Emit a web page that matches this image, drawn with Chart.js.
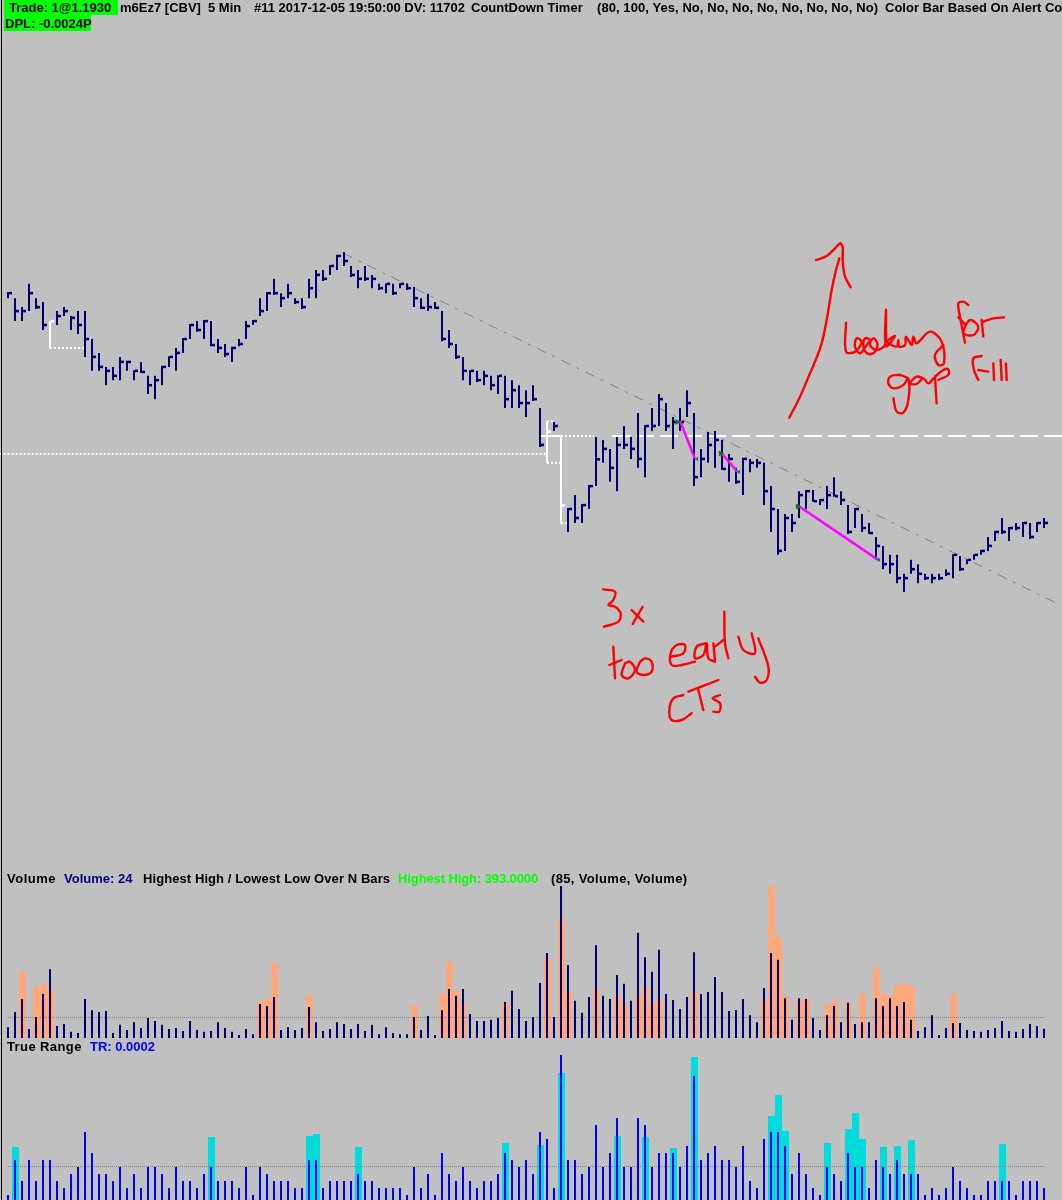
<!DOCTYPE html>
<html>
<head>
    <title>m6Ez7 5 Min</title>
    <script src="https://cdn.jsdelivr.net/npm/chart.js"></script>
    <style>
        html, body { margin: 0; padding: 0; background: #c0c0c0; }
        #page { position: relative; width: 1062px; height: 1200px; overflow: hidden; background: #c0c0c0; }
        #axisLine { position: absolute; left: 1px; top: 0; width: 1px; height: 1200px; background: #000; z-index: 3; }
        canvas { position: absolute; left: 0; display: block; }
        .t { position: absolute; font: bold 13px "Liberation Sans", Arial, sans-serif; line-height: 15px; white-space: pre; color: #000; z-index: 5; }
        .box { position: absolute; background: #00ff00; z-index: 4; }
    </style>
</head>
<body>
<div id="page">
    <div id="axisLine"></div>
    <canvas id="priceChart" width="1062" height="870" style="top:0"></canvas>
    <canvas id="volumeChart" width="1062" height="170" style="top:870px"></canvas>
    <canvas id="rangeChart" width="1062" height="160" style="top:1040px"></canvas>

    <div class="box" style="left:4px;top:0;width:114px;height:15px"></div>
    <div class="box" style="left:4px;top:15px;width:87px;height:16px"></div>
    <span class="t" style="left:9px;top:0">Trade: 1@1.1930</span>
    <span class="t" style="left:120px;top:0">m6Ez7 [CBV]</span>
    <span class="t" style="left:208px;top:0">5 Min</span>
    <span class="t" style="left:254px;top:0">#11 2017-12-05 19:50:00 DV: 11702</span>
    <span class="t" style="left:471px;top:0">CountDown Timer</span>
    <span class="t" style="left:597px;top:0;letter-spacing:.07px">(80, 100, Yes, No, No, No, No, No, No, No, No)</span>
    <span class="t" style="left:885px;top:0">Color Bar Based On Alert Co</span>
    <span class="t" style="left:5px;top:16px">DPL: -0.0024P</span>

    <span class="t" style="left:7px;top:871px;letter-spacing:.5px">Volume</span>
    <span class="t" style="left:64px;top:871px;color:#000080">Volume: 24</span>
    <span class="t" style="left:143px;top:871px;letter-spacing:.08px">Highest High / Lowest Low Over N Bars</span>
    <span class="t" style="left:398px;top:871px;color:#00ff00;letter-spacing:-.1px">Highest High: 393.0000</span>
    <span class="t" style="left:551px;top:871px;letter-spacing:.35px">(85, Volume, Volume)</span>

    <span class="t" style="left:7px;top:1039px;letter-spacing:.4px">True Range</span>
    <span class="t" style="left:90px;top:1039px;color:#0000ff">TR: 0.0002</span>
</div>

<script>
    // price bars, in pips from the entry price 1.1930
    const highs = [40.2,38.5,36.0,42.5,38.5,37.4,32.1,34.9,36.0,33.5,34.9,34.9,27.1,23.2,19.3,19.3,22.1,21.0,18.4,20.7,
        16.8,16.8,19.6,22.3,24.6,27.4,31.3,32.1,32.4,32.1,27.1,25.7,24.9,27.1,32.1,32.4,38.5,40.2,43.9,39.9,
        42.5,38.5,38.5,43.9,46.4,46.4,47.8,50.6,51.4,47.5,46.4,47.5,45.0,42.5,42.7,42.5,42.7,42.7,41.6,38.5,
        39.7,37.4,34.9,29.6,25.7,22.1,18.4,18.2,18.2,16.8,17.0,16.8,15.6,14.2,12.8,14.2,7.8,4.1,3.9,0,
        -20.1,-16.5,-19.0,-13.7,-0.3,-1.1,-3.6,-0.3,2.8,-0.3,6.4,3.1,7.8,11.7,9.2,5.3,7.8,12.8,6.4,-3.6,
        1.1,1.4,-1.1,-5.0,-8.9,-6.1,-6.4,-6.4,-7.5,-14.0,-20.4,-21.8,-21.8,-15.4,-15.1,-15.1,-17.6,-14.0,-11.5,-15.4,
        -19.3,-20.1,-21.8,-24.3,-28.2,-30.7,-33.2,-33.2,-38.5,-34.6,-35.8,-38.5,-38.5,-38.5,-37.2,-33.0,-33.5,-34.4,-33.0,-31.8,
        -28.2,-26.5,-22.9,-25.4,-24.3,-24.0,-24.3,-24.0,-22.9];
    const lows = [38.5,32.1,32.1,34.9,35.5,29.6,24.4,31.0,33.5,29.6,28.5,22.1,18.2,18.2,14.2,15.6,15.6,18.2,15.6,17.6,
        11.7,10.3,14.2,19.3,18.2,23.2,27.1,29.1,27.1,25.1,23.2,22.1,20.7,25.1,27.1,31.0,33.5,34.9,39.4,36.0,
        38.5,36.9,35.5,38.5,38.5,43.3,45.0,46.4,47.5,44.4,41.3,43.3,41.3,40.8,39.9,39.4,41.3,40.8,36.0,35.5,
        34.9,35.5,26.5,24.6,21.5,15.6,14.2,15.1,14.2,12.8,11.7,7.8,7.8,7.8,5.3,9.8,-3.1,-7.5,1.4,-24.4,
        -26.8,-24.3,-24.3,-20.4,-14.0,-7.5,-12.8,-15.4,-3.6,-6.4,-8.9,-11.5,1.4,2.8,1.4,-3.6,1.4,5.3,-14.0,-11.5,
        -7.5,-8.9,-9.5,-12.8,-13.4,-16.5,-10.1,-8.9,-19.3,-26.8,-33.2,-32.1,-26.8,-22.9,-20.4,-18.4,-19.3,-20.4,-17.0,-19.3,
        -27.4,-25.7,-26.8,-27.4,-34.6,-37.2,-38.5,-41.1,-43.6,-38.5,-41.1,-40.2,-41.1,-40.2,-39.1,-39.7,-37.7,-35.8,-34.6,-33.2,
        -32.1,-29.3,-27.4,-29.3,-26.3,-28.2,-28.8,-26.8,-25.7];
    const closes = [39.9,34.9,34.9,39.9,36.0,31.0,32.1,33.5,34.9,33.0,31.0,27.1,22.1,19.3,18.2,16.8,20.7,20.7,18.2,17.9,
        14.2,15.6,19.3,22.1,23.2,27.1,31.0,29.6,32.1,25.4,24.6,22.9,24.6,25.7,30.7,32.1,34.9,39.9,39.9,38.5,
        39.9,37.4,36.0,41.3,45.0,43.9,47.5,50.3,48.9,45.0,43.9,43.9,43.9,41.3,42.5,39.9,42.5,41.3,38.5,35.8,
        36.0,35.8,27.1,25.7,22.1,18.2,18.2,15.6,16.8,14.2,16.8,10.3,12.8,9.2,9.2,10.3,-2.5,1.2,2.8,-19.4,
        -20.4,-22.9,-19.3,-14.0,-6.5,-3.6,-8.9,-2.5,-2.5,-3.6,-6.4,2.8,2.8,10.3,2.8,3.9,3.9,9.2,-11.5,-6.4,
        -2.5,-1.1,-9.2,-6.4,-12.8,-6.4,-7.5,-7.5,-15.4,-20.4,-32.1,-22.9,-24.3,-16.5,-15.4,-18.2,-17.9,-16.5,-16.8,-17.9,
        -26.8,-20.4,-25.7,-27.1,-30.7,-35.8,-35.8,-39.7,-39.7,-37.2,-38.5,-39.7,-39.7,-39.7,-38.5,-33.2,-37.2,-34.6,-33.2,-32.1,
        -30.7,-26.8,-26.8,-25.7,-25.7,-24.3,-28.2,-24.3,-24.3];
    const whiteBars = [6, 77, 79];

    // volume panel
    const volumes = [28,67,101,23,54,114,178,31,36,16,13,101,72,67,70,13,34,21,41,26,
        52,44,34,23,26,18,44,21,16,18,41,26,16,8,23,10,88,83,106,21,
        28,21,26,80,41,18,23,41,36,23,36,18,34,10,28,13,10,10,54,21,
        57,8,72,127,109,127,62,44,44,47,52,93,122,75,44,54,142,220,54,393,
        189,96,65,106,240,109,101,163,140,96,272,209,171,228,114,98,75,106,222,114,
        119,158,119,70,72,101,59,41,129,220,202,103,47,103,101,52,21,59,83,41,
        91,36,41,41,103,83,103,83,93,47,18,28,59,8,26,39,39,21,18,16,
        21,26,44,18,16,23,36,31,24];
    const volHighBars = [2,4,5,6,36,37,38,43,58,62,63,64,65,71,77,79,80,84,87,88,90,91,92,93,98,
        108,109,110,111,113,114,117,118,120,122,124,125,126,127,128,129,135];
    const volHighValues = [171,132,140,124,93,101,194,111,85,114,197,122,88,93,207,310,119,127,111,88,111,132,88,103,122,
        98,393,260,109,96,103,85,98,91,114,184,114,111,137,142,134,114];
    const volLevel = 53;

    // true range panel, in pips
    const ranges = [1,6,3,6,3,6,6,3,2,4,5,10,7,4,4,3,5,2,4,2,
        5,5,4,2,5,3,3,2,4,5,3,3,3,2,5,1,5,4,3,3,
        3,2,2,6,6,2,3,3,3,3,4,3,3,2,2,2,2,1,5,2,
        4,1,7,4,3,5,3,2,3,3,4,7,6,5,6,4,10,9,2,21,
        6,6,4,5,11,5,7,12,5,5,12,11,5,7,7,7,5,8,18,6,
        7,8,6,6,5,8,3,2,9,10,10,8,4,7,4,2,1,5,4,3,
        7,5,5,2,6,5,4,6,4,4,4,1,2,1,2,5,3,2,1,1,
        3,3,3,3,1,3,3,3,2];
    const rangeHighBars = [1,29,43,44,50,71,76,79,87,91,95,98,109,110,111,117,120,121,122,125,127,129,142];
    const rangeHighValues = [7.86,9.29,9.43,9.71,7.86,8.43,8.14,18.43,9.43,9.29,7.71,20.71,
        12.29,15.29,10.14,8.43,10.43,12.71,9,7.86,8,8.86,8.29];
    const rangeLevel = 5.07;

    // lines on the price panel: [bar, pips] pairs
    const trendLine = [[47.86,51.1],[150,-46.9]];
    const ctSegments = [
        [[96,4.2],[98.14,-6.4]],
        [[102,-5.0],[104.2,-10]],
        [[113,-19.6],[124.3,-34.6]]
    ];
    const ctStarts = [[95.6,3.9],[101.8,-4.9],[112.8,-19.7]];
    const ctEnds = [[98.4,-6.4],[104.4,-10],[124.4,-34.6]];
    const whiteDotted = [
        [[6,24.6],[10.9,24.6]],
        [[-1.2,-5],[77,-5]],
        [[77,-7.5],[79,-7.5]],
        [[79,-24.4],[79.8,-24.4]],
        [[77,4.1],[77.8,4.1]],
        [[79,0],[83.7,0]]
    ];
    const whiteSolid = [[76,0],[79,0]];
    const whiteDashed = [[86.29,0],[150.6,0]];

    // hand drawn ink, [x, y] in ink units (3 per pixel)
    const inkArrow = [[628,563],[660,500],[690,430],[722,350],[740,270],[755,180],[768,120],[778,85]];
    const inkArrowHead = [[708,90],[740,78],[765,55],[780,40],[788,50],[788,90],[795,140],[812,172]];
    const inkLooking = [[798,278],[798,365],[825,365],[845,335],[830,325],[825,350],[840,370],[860,345],[870,330],[855,325],[850,350],[865,372],[885,365],[892,340],[880,325],[870,345],[890,360],[915,345],[918,290],[918,240],[918,348],[945,318],[922,335],[950,350],[955,330],[958,350],[975,345],[978,320],[995,345],[1000,320],[1010,340],[1050,305],[1085,335],[1092,400],[1075,405],[1065,375],[1090,345]];
    const inkF = [[1155,338],[1140,260],[1135,220],[1150,215],[1165,225]];
    const inkFBar = [[1135,262],[1155,285],[1150,310],[1180,315],[1195,290],[1170,270],[1150,300]];
    const inkR = [[1205,270],[1210,320]];
    const inkRArm = [[1210,275],[1240,265],[1272,262]];
    const inkGapG = [[985,445],[960,435],[930,440],[925,460],[940,475],[970,465],[985,445],[985,510],[970,548],[950,545],[940,505]];
    const inkGapA = [[1030,445],[1010,440],[990,460],[1010,462],[1030,445],[1045,460],[1060,445]];
    const inkGapP = [[1065,440],[1068,490],[1070,520]];
    const inkGapPBowl = [[1065,440],[1090,420],[1105,418],[1105,435],[1075,450]];
    const inkFillF = [[1195,450],[1182,420],[1180,385],[1205,378]];
    const inkFillBar = [[1195,420],[1225,425]];
    const inkFillI = [[1240,400],[1242,450]];
    const inkFillL = [[1262,390],[1265,450]];
    const inkFillL2 = [[1278,400],[1280,450]];
    const ink3 = [[70,1078],[105,1085],[100,1110],[85,1125],[105,1130],[122,1150],[115,1175],[72,1190]];
    const inkX1 = [[155,1140],[190,1175]];
    const inkX2 = [[188,1130],[158,1182]];
    const inkT = [[100,1250],[105,1345]];
    const inkTBar = [[88,1305],[125,1290]];
    const inkO1 = [[135,1300],[125,1335],[145,1345],[165,1320],[150,1295],[135,1300]];
    const inkO2 = [[180,1295],[170,1325],[190,1335],[215,1325],[215,1295],[195,1285],[180,1295]];
    const inkE = [[275,1280],[310,1270],[315,1245],[290,1245],[272,1270],[275,1305],[305,1305],[345,1295]];
    const inkA = [[375,1240],[350,1250],[345,1285],[370,1275],[380,1240],[385,1285],[405,1295]];
    const inkEarlyR = [[400,1240],[405,1290]];
    const inkEarlyRArm = [[405,1250],[430,1230]];
    const inkL = [[433,1145],[435,1240],[445,1285]];
    const inkY1 = [[475,1220],[490,1260],[525,1270],[515,1210]];
    const inkY2 = [[535,1225],[565,1310],[560,1350],[540,1358],[525,1340]];
    const inkC = [[310,1395],[280,1405],[268,1440],[275,1470],[305,1470],[335,1450]];
    const inkTs = [[325,1385],[415,1350]];
    const inkTsStem = [[355,1380],[370,1440]];
    const inkS = [[420,1395],[398,1405],[420,1420],[418,1445],[400,1445]];
    const inkStrokes = [inkArrow,inkArrowHead,inkLooking,inkF,inkFBar,inkR,inkRArm,inkGapG,inkGapA,inkGapP,inkGapPBowl,
        inkFillF,inkFillBar,inkFillI,inkFillL,inkFillL2,ink3,inkX1,inkX2,inkT,inkTBar,inkO1,inkO2,inkE,inkA,
        inkEarlyR,inkEarlyRArm,inkL,inkY1,inkY2,inkC,inkTs,inkTsStem,inkS];

    const NAVY = '#000070';
    const pts = list => list.map(p => ({ x: p[0], y: p[1] }));

    // x axis shared by all panels: 7 px per bar, first bar at x=8
    const barAxis = { type: 'linear', display: false, offset: false, min: -8 / 7, max: 1054 / 7, grid: { display: false } };
    const baseOptions = {
        responsive: false,
        animation: false,
        events: [],
        layout: { padding: 0, autoPadding: false },
        plugins: { legend: { display: false }, tooltip: { enabled: false }, title: { display: false } }
    };
    const barBits = { grouped: false, inflateAmount: 0, barPercentage: 1, categoryPercentage: 1 };

    function lineSet(points, color, width, dash, order, extra) {
        return Object.assign({
            type: 'line', data: pts(points), borderColor: color, borderWidth: width,
            borderDash: dash || [], pointRadius: 0, fill: false, order: order, parsing: true
        }, extra || {});
    }

    function initPriceChart() {
        const barColors = highs.map((h, i) => whiteBars.includes(i) ? '#ffffff' : NAVY);
        const datasets = [
            Object.assign({ type: 'bar', data: highs.map((h, i) => ({ x: i, y: [lows[i], h] })), backgroundColor: barColors,
              barThickness: 2, order: 5 }, barBits),
            Object.assign({ type: 'bar', data: closes.map((c, i) => ({ x: i + 2.5 / 7, y: [c - 0.36, c + 0.36] })), backgroundColor: barColors,
              barThickness: 3, order: 5 }, barBits),
            lineSet(trendLine, '#808080', 1, [10, 7, 3, 7], 8),
            lineSet(whiteSolid, '#ffffff', 2, [], 7),
            lineSet(whiteDashed, '#ffffff', 2, [18, 6], 7)
        ];
        whiteDotted.forEach(seg => datasets.push(lineSet(seg, '#ffffff', 2, [2, 2], 7)));
        ctSegments.forEach(seg => datasets.push(lineSet(seg, '#ff00ff', 2.5, [], 2)));
        datasets.push({ type: 'scatter', data: pts(ctStarts), pointStyle: 'triangle', rotation: 90, pointRadius: 3.5,
            backgroundColor: '#008000', borderWidth: 0, order: 1 });
        datasets.push({ type: 'scatter', data: pts(ctEnds), pointStyle: 'triangle', rotation: -90, pointRadius: 2.5,
            backgroundColor: '#008080', borderWidth: 0, order: 1 });
        inkStrokes.forEach(stroke => datasets.push(lineSet(stroke, '#ff0000', 2.4, [], 0,
            { xAxisID: 'inkX', yAxisID: 'inkY', tension: 0.35, borderCapStyle: 'round', borderJoinStyle: 'round' })));

        new Chart(document.getElementById('priceChart'), {
            data: { datasets: datasets },
            options: Object.assign({}, baseOptions, {
                scales: {
                    x: barAxis,
                    y: { type: 'linear', display: false, min: -434 / 3.58, max: 436 / 3.58, grid: { display: false } },
                    inkX: { type: 'linear', display: false, min: -1740, max: 1446 },
                    inkY: { type: 'linear', display: false, reverse: true, min: -690, max: 1920 }
                }
            })
        });
    }

    // navy/blue thin bars in front of the wide highlighted ones
    function initPanel(id, values, thinColor, hiBars, hiValues, hiColor, level, yMin, yMax) {
        new Chart(document.getElementById(id), {
            data: {
                datasets: [
                    Object.assign({ type: 'bar', data: values.map((v, i) => ({ x: i, y: v })), backgroundColor: thinColor,
                      barThickness: 2, order: 1 }, barBits),
                    lineSet([[0, level], [148.1, level]], '#808080', 1, [1, 1], 2),
                    Object.assign({ type: 'bar', data: hiBars.map((b, i) => ({ x: b + 0.5 / 7, y: hiValues[i] })), backgroundColor: hiColor,
                      barThickness: 7, order: 3 }, barBits)
                ]
            },
            options: Object.assign({}, baseOptions, {
                scales: {
                    x: barAxis,
                    y: { type: 'linear', display: false, min: yMin, max: yMax, grid: { display: false } }
                }
            })
        });
    }

    initPriceChart();
    initPanel('volumeChart', volumes, NAVY, volHighBars, volHighValues, '#ffa87c', volLevel, -2 / 0.3868, 168 / 0.3868);
    initPanel('rangeChart', ranges, '#0000ff', rangeHighBars, rangeHighValues, '#00dcdc', rangeLevel, 2 / 7, 162 / 7);
</script>
</body>
</html>
